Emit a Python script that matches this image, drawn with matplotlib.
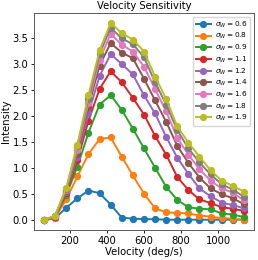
import matplotlib
matplotlib.use("Agg")
import matplotlib.pyplot as plt

velocity = [60, 120, 180, 240, 300, 360, 420, 480, 540, 600, 660, 720, 780, 840, 900, 960, 1020, 1080, 1140]

sigma_labels = ["0.6", "0.8", "0.9", "1.1", "1.2", "1.4", "1.6", "1.8", "1.9"]

s06 = [0.00, 0.04, 0.24, 0.42, 0.57, 0.52, 0.30, 0.05, 0.03, 0.02, 0.02, 0.01, 0.01, 0.01, 0.01, 0.01, 0.01, 0.01, 0.01]
s08 = [0.00, 0.05, 0.40, 0.84, 1.27, 1.56, 1.59, 1.22, 0.86, 0.51, 0.23, 0.15, 0.14, 0.13, 0.09, 0.07, 0.04, 0.03, 0.01]
s09 = [0.00, 0.07, 0.48, 1.03, 1.68, 2.22, 2.40, 2.12, 1.76, 1.38, 1.01, 0.64, 0.39, 0.25, 0.22, 0.21, 0.13, 0.11, 0.06]
s11 = [0.00, 0.07, 0.52, 1.15, 1.91, 2.52, 2.86, 2.65, 2.35, 2.03, 1.62, 1.26, 0.83, 0.58, 0.40, 0.33, 0.25, 0.22, 0.18]
s12 = [0.00, 0.08, 0.55, 1.22, 2.05, 2.77, 3.19, 3.00, 2.80, 2.40, 2.05, 1.60, 1.20, 0.89, 0.61, 0.46, 0.34, 0.29, 0.23]
s14 = [0.00, 0.08, 0.57, 1.28, 2.18, 2.97, 3.40, 3.22, 3.11, 2.72, 2.30, 1.89, 1.43, 1.10, 0.82, 0.61, 0.50, 0.42, 0.31]
s16 = [0.00, 0.08, 0.59, 1.35, 2.25, 3.08, 3.58, 3.37, 3.24, 2.95, 2.52, 2.09, 1.58, 1.26, 0.98, 0.76, 0.61, 0.53, 0.38]
s18 = [0.00, 0.09, 0.60, 1.42, 2.33, 3.19, 3.70, 3.49, 3.38, 3.13, 2.65, 2.22, 1.73, 1.38, 1.11, 0.88, 0.69, 0.59, 0.45]
s19 = [0.00, 0.09, 0.62, 1.45, 2.40, 3.26, 3.79, 3.59, 3.47, 3.24, 2.76, 2.33, 1.80, 1.49, 1.22, 0.96, 0.76, 0.66, 0.55]

series = [s06, s08, s09, s11, s12, s14, s16, s18, s19]

fs = 7.2
fig = plt.figure(figsize=(2.58, 2.60), dpi=100)
ax = fig.add_axes([0.132, 0.115, 0.852, 0.835])

for lab, vals in zip(sigma_labels, series):
    ax.plot(velocity, vals, marker='o', markersize=4.2, linewidth=1.4,
            label=r"$\sigma_W = %s$" % lab)

ax.set_title("Velocity Sensitivity", fontsize=fs, pad=3)
ax.set_xlabel("Velocity (deg/s)", fontsize=fs, labelpad=1)
ax.set_ylabel("Intensity", fontsize=fs)
ax.yaxis.set_label_coords(-0.105, 0.5)
ax.set_xticks([200, 400, 600, 800, 1000])
ax.set_yticks([0.0, 0.5, 1.0, 1.5, 2.0, 2.5, 3.0, 3.5])
ax.tick_params(labelsize=fs, length=2.5, width=0.6, pad=1.5)
for sp in ax.spines.values():
    sp.set_linewidth(0.7)
    sp.set_color('0.35')

ax.legend(loc='upper right', fontsize=5.3, handlelength=2.0, labelspacing=0.2,
          borderpad=0.4, handletextpad=0.6, borderaxespad=0.5)

fig.savefig("out.png", dpi=100)
